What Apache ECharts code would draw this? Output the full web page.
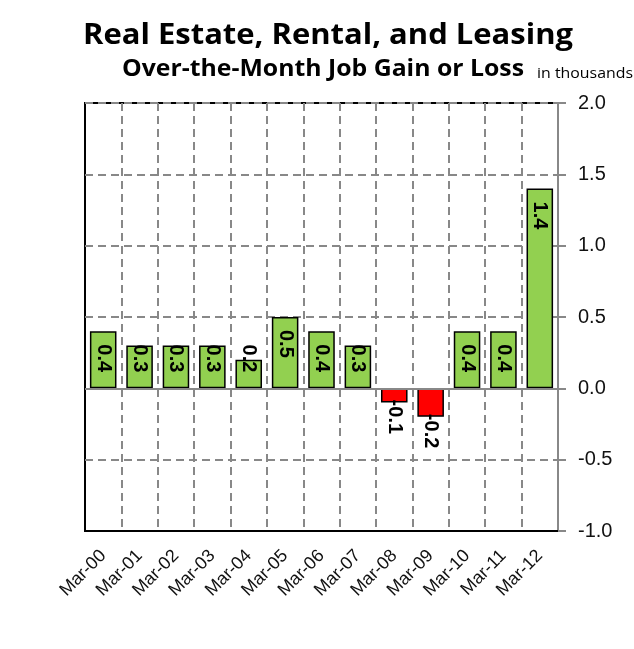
<!DOCTYPE html>
<html>
<head>
<meta charset="utf-8">
<script src="https://cdn.jsdelivr.net/npm/echarts@6/dist/echarts.min.js"></script>
<style>
html,body{margin:0;padding:0;background:#fff;}
#chart{width:634px;height:649px;}
</style>
</head>
<body>
<div id="chart"></div>
<script>
const categories = ['Mar-00','Mar-01','Mar-02','Mar-03','Mar-04','Mar-05','Mar-06','Mar-07','Mar-08','Mar-09','Mar-10','Mar-11','Mar-12'];
const values = [0.4, 0.3, 0.3, 0.3, 0.2, 0.5, 0.4, 0.3, -0.1, -0.2, 0.4, 0.4, 1.4];
const yTicks = [-1.0, -0.5, 0.0, 0.5, 1.0, 1.5, 2.0];
const titleText = 'Real Estate, Rental, and Leasing';
const subtitleText = 'Over-the-Month Job Gain or Loss';
const unitText = 'in thousands';

const GREEN = '#92D050', RED = '#FF0000';
const axisFont = '"Liberation Sans", Arial, sans-serif';
const titleFamily = '"Open Sans", Lato, sans-serif';

// horizontal scale so each heading fills the same width as in the reference
const mctx = document.createElement('canvas').getContext('2d');
function fitScale(text, font, target) {
  mctx.font = font;
  return target / mctx.measureText(text).width;
}
const titleFont = 'bold 29px ' + titleFamily;
const subFont = 'bold 23px ' + titleFamily;
const unitFont = '15px ' + titleFamily;

const data = values.map(v => {
  let label;
  if (v < 0) {
    label = {position: 'insideBottom', distance: 3, align: 'left', verticalAlign: 'middle'};
  } else if (v >= 0.4) {
    label = {position: 'insideTop', distance: 13, align: 'left', verticalAlign: 'middle'};
  } else {
    label = {position: 'insideBottom', distance: 16, align: 'right', verticalAlign: 'middle'};
  }
  return {value: v, itemStyle: {color: v < 0 ? RED : GREEN}, label};
});

const chart = echarts.init(document.getElementById('chart'), null, {renderer: 'canvas'});
chart.setOption({
  animation: false,
  backgroundColor: '#fff',
  graphic: [
    {type: 'text', x: 83, y: 50, scaleX: fitScale(titleText, titleFont, 490),
     style: {text: titleText, font: titleFont, fill: '#000', verticalAlign: 'bottom'}},
    {type: 'text', x: 122, y: 81, scaleX: fitScale(subtitleText, subFont, 402),
     style: {text: subtitleText, font: subFont, fill: '#000', verticalAlign: 'bottom'}},
    {type: 'text', x: 537, y: 81, scaleX: fitScale(unitText, unitFont, 96),
     style: {text: unitText, font: unitFont, fill: '#000', verticalAlign: 'bottom'}}
  ],
  grid: {left: 85, right: 76, top: 103, bottom: 118, show: true, borderColor: '#000', borderWidth: 2, backgroundColor: 'transparent'},
  xAxis: {
    type: 'category',
    data: categories,
    position: 'bottom',
    axisLine: {onZero: false, lineStyle: {color: '#000', width: 2}},
    axisTick: {show: false},
    axisLabel: {rotate: 45, fontFamily: axisFont, fontSize: 18, color: '#111', margin: 22, interval: 0},
    splitLine: {show: true, interval: (i) => i !== 0, lineStyle: {color: '#888', width: 2, type: [8, 5]}}
  },
  yAxis: {
    type: 'value',
    position: 'right',
    min: yTicks[0],
    max: yTicks[yTicks.length - 1],
    interval: 0.5,
    axisLine: {show: true, lineStyle: {color: '#888', width: 2}},
    axisTick: {show: true, length: 8, lineStyle: {color: '#888', width: 2}},
    axisLabel: {fontFamily: '"Liberation Sans Narrow", "Liberation Sans", Arial, sans-serif', fontSize: 20, color: '#111', margin: 20, formatter: v => v.toFixed(1)},
    splitLine: {show: true, lineStyle: {color: '#888', width: 2, type: [8, 5]}}
  },
  series: [{
    type: 'bar',
    data: data,
    barCategoryGap: '27%',
    itemStyle: {borderColor: '#000', borderWidth: 1.5},
    label: {
      show: true,
      rotate: -90,
      fontFamily: '"Liberation Sans", Arial, sans-serif',
      fontWeight: 'bold',
      fontSize: 20,
      color: '#000',
      formatter: p => p.value.toFixed(1)
    },
    markLine: {
      silent: true,
      symbol: 'none',
      label: {show: false},
      lineStyle: {color: '#888', type: 'solid', width: 2},
      data: [{yAxis: 0}]
    }
  }]
});
</script>
</body>
</html>
